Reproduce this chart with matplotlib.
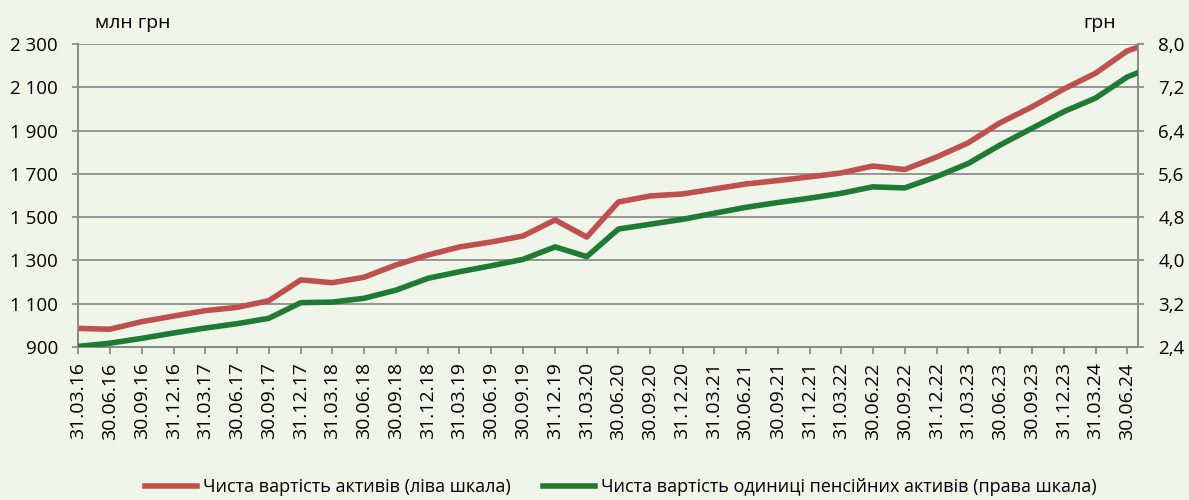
import matplotlib.pyplot as plt
import pandas as pd

plt.rcParams['font.family'] = ['Open Sans', 'DejaVu Sans']

# quarter-end dates + last point (31.07.24, no label)
dates = list(pd.date_range('2016-03-31', '2024-06-30', freq='QE')) + [pd.Timestamp('2024-07-31')]
labels = [d.strftime('%d.%m.%y') for d in dates[:-1]]

nav = [986, 982, 1017, 1043, 1068, 1083, 1114, 1210, 1197, 1222,
       1279, 1325, 1362, 1385, 1413, 1487, 1408, 1570, 1598, 1607,
       1630, 1653, 1669, 1686, 1704, 1736, 1720, 1778, 1843, 1935,
       2009, 2092, 2165, 2268, 2285]
unit = [2.41, 2.47, 2.56, 2.66, 2.75, 2.83, 2.93, 3.22, 3.23, 3.30,
        3.45, 3.67, 3.79, 3.90, 4.02, 4.25, 4.07, 4.58, 4.67, 4.76,
        4.87, 4.98, 5.07, 5.15, 5.24, 5.36, 5.34, 5.55, 5.79, 6.13,
        6.44, 6.75, 7.00, 7.39, 7.47]

left_ticks = [900, 1100, 1300, 1500, 1700, 1900, 2100, 2300]
right_ticks = [2.4, 3.2, 4.0, 4.8, 5.6, 6.4, 7.2, 8.0]

bg = '#eff6e9'
red = '#c0504d'
green = '#1e7b34'
grey = '#8c8c8c'

fig = plt.figure(figsize=(11.89, 5), dpi=100, facecolor=bg)
ax = fig.add_axes([0.0656, 0.306, 0.8915, 0.606])
ax.set_facecolor(bg)
ax2 = ax.twinx()

l1, = ax.plot(dates, nav, color=red, lw=4, solid_joinstyle='round', zorder=3)
l2, = ax2.plot(dates, unit, color=green, lw=4, solid_joinstyle='round', zorder=3)

ax.set_ylim(900, 2300)
ax2.set_ylim(2.4, 8.0)
ax.set_xlim(dates[0], dates[-1])
ax.set_yticks(left_ticks)
ax.set_yticklabels([f'{v:,}'.replace(',', ' ') for v in left_ticks])
ax2.set_yticks(right_ticks)
ax2.set_yticklabels([f'{v:.1f}'.replace('.', ',') for v in right_ticks])
ax.set_xticks(dates[:-1])
ax.set_xticklabels(labels, rotation=90)

ax.grid(axis='y', color=grey, lw=1.3)
ax.set_axisbelow(True)
for a in (ax, ax2):
    a.spines['top'].set_visible(False)
    for s in ('left', 'right', 'bottom'):
        a.spines[s].set_color(grey)
        a.spines[s].set_linewidth(1.3)
ax.tick_params(axis='y', length=4.5, color=grey, width=1.3, labelsize=13.5, pad=10)
ax2.tick_params(axis='y', length=4.5, color=grey, width=1.3, labelsize=13.5, pad=10)
ax.tick_params(axis='x', length=5, color=grey, width=1.3, labelsize=14, pad=6)

fig.text(0.08, 0.955, 'млн грн', fontsize=14, va='center')
fig.text(0.939, 0.955, 'грн', fontsize=14, va='center', ha='right')

fig.legend([l1, l2],
           ['Чиста вартість активів (ліва шкала)',
            'Чиста вартість одиниці пенсійних активів (права шкала)'],
           loc='center', bbox_to_anchor=(0.522, 0.026), ncol=2, frameon=False,
           fontsize=13, handlelength=2.9, handletextpad=0.3, columnspacing=1.8)

fig.savefig('out.png', dpi=100, facecolor=bg)
